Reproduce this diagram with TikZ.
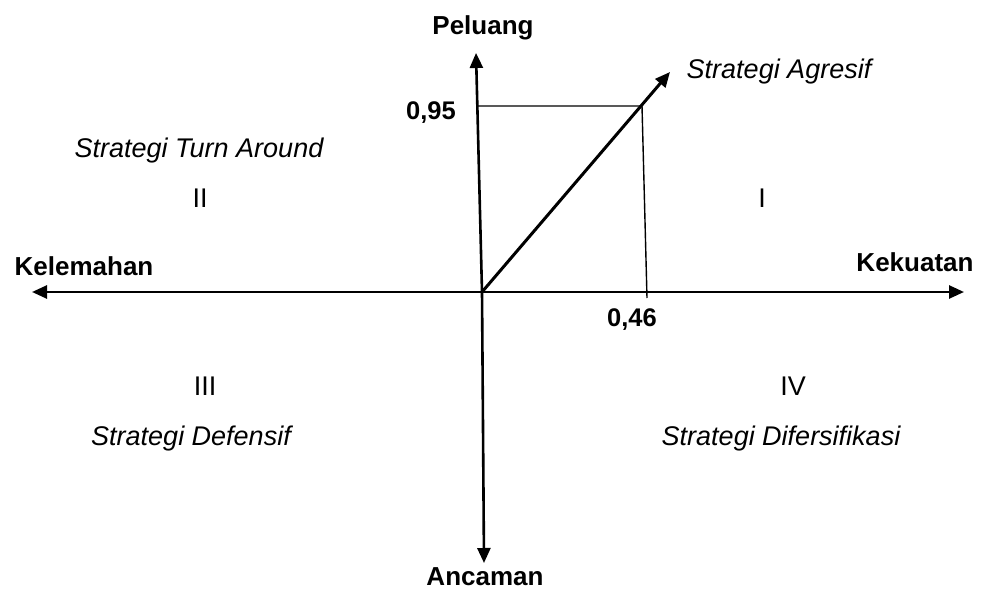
\documentclass[tikz,border=0pt]{standalone}
\usepackage{fontspec}
\setmainfont{Liberation Sans}
\usetikzlibrary{arrows.meta}
\begin{document}
\begin{tikzpicture}[
    x=1pt, y=-1pt,
    >={Triangle[length=15pt,width=13pt]},
    font=\fontsize{26}{30}\selectfont,
    axis/.style={line width=2.6pt},
    guide/.style={line width=1.4pt},
    pole/.style={font=\fontsize{26}{30}\selectfont\bfseries},
    value/.style={font=\fontsize{25.5}{30}\selectfont\bfseries},
    strategy/.style={font=\fontsize{27}{30}\selectfont\itshape},
    quadrant/.style={font=\fontsize{27}{30}\selectfont}
  ]
  \useasboundingbox (0,0) rectangle (992,591);

  % axis ends and helper points
  \coordinate (origin) at (482,292);
  \coordinate (up) at (476,53);
  \coordinate (down) at (484,563);
  \coordinate (west) at (32,292);
  \coordinate (east) at (964,292);
  \coordinate (aggr) at (670,72);
  \coordinate (point) at (642,106);
  \coordinate (yfoot) at (477,106);
  \coordinate (xfoot) at (647,298);

  % axes
  \draw [axis,->] (origin) -- (up);
  \draw [axis,->] (origin) -- (down);
  \draw [axis,->] (origin) -- (west);
  \draw [axis,->] (origin) -- (east);
  \draw [axis,line width=3pt,->] (origin) -- (aggr);

  % guide lines
  \draw [guide] (yfoot) -- (point) -- (xfoot);

  % axis labels
  \node [pole] (peluang) at (483,28) {Peluang};
  \node [pole] (ancaman) at (485,577) {Ancaman};
  \node [pole] (kelemahan) at (84,266) {Kelemahan};
  \node [pole] (kekuatan) at (915,262) {Kekuatan};

  % values
  \node [value] (v95) at (431,113) {0,95};
  \node [value] (v46) at (632,320) {0,46};

  % quadrants
  \node [strategy] (agresif) at (779,72) {Strategi Agresif};
  \node [strategy] (turn) at (199,151) {Strategi Turn Around};
  \node [quadrant] (q2) at (200,198) {II};
  \node [quadrant] (q1) at (762,198) {I};
  \node [quadrant] (q3) at (205,386) {III};
  \node [quadrant] (q4) at (793,386) {IV};
  \node [strategy] (defensif) at (191,439) {Strategi Defensif};
  \node [strategy] (difer) at (781,439) {Strategi Difersifikasi};
\end{tikzpicture}
\end{document}
